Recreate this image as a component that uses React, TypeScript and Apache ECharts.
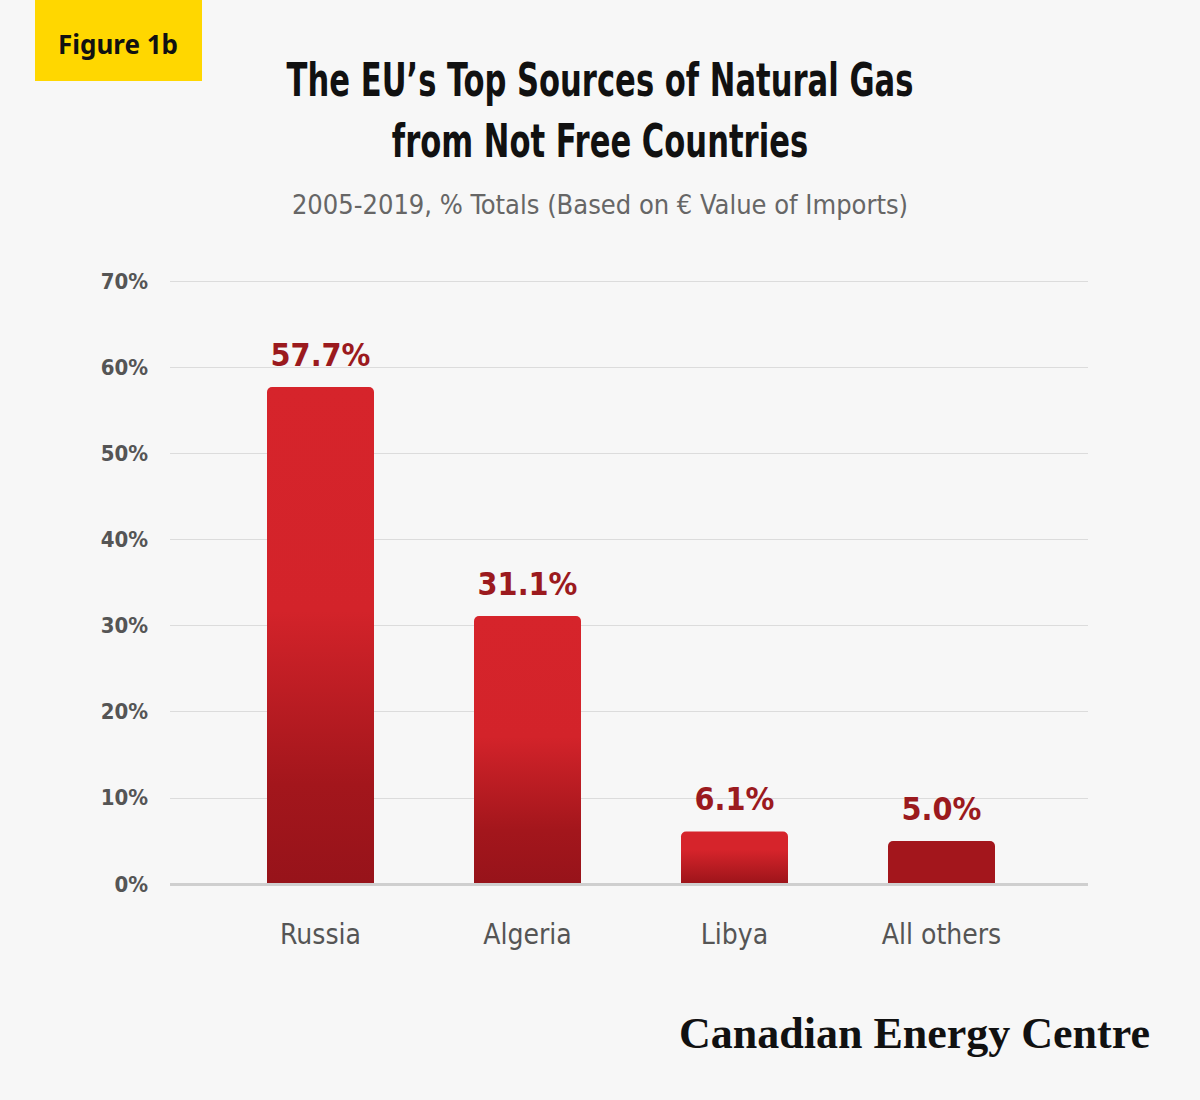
import * as echarts from "echarts";
import { useEffect, useRef } from "react";

const categories = ["Russia", "Algeria", "Libya", "All others"];
const shares = [57.7, 31.1, 6.1, 5.0];
const yTicks = [0, 10, 20, 30, 40, 50, 60, 70];

const COND = "'DejaVu Sans Condensed', 'Liberation Sans Narrow', 'Roboto', sans-serif";
const LABEL_RED = "#9b1a1e";

function barColor(i: number) {
  if (i === 3) return "#a3161c";
  const stops =
    i === 2
      ? [
          { offset: 0, color: "#d6242b" },
          { offset: 0.35, color: "#d6242b" },
          { offset: 1, color: "#9c141a" },
        ]
      : [
          { offset: 0, color: "#d6242b" },
          { offset: 0.45, color: "#d3232a" },
          { offset: 0.8, color: "#a3161c" },
          { offset: 1, color: "#97131a" },
        ];
  return new echarts.graphic.LinearGradient(0, 0, 0, 1, stops);
}

export default function App() {
  const ref = useRef<HTMLDivElement>(null);

  useEffect(() => {
    document.body.style.margin = "0";
    const el = ref.current;
    if (!el) return;
    const chart = echarts.init(el, null, { renderer: "svg" });
    const yBase = {
      type: "value" as const,
      min: 0,
      max: 70,
      interval: 10,
    };
    const titleText = (text: string, y: number) => ({
      type: "text",
      x: 600,
      y,
      scaleX: 0.74,
      originX: 0,
      style: { text, font: `bold 46px ${COND}`, fill: "#111", align: "center", verticalAlign: "middle" },
    });
    chart.setOption({
      animation: false,
      backgroundColor: "#f7f7f7",
      graphic: [
        { type: "rect", shape: { x: 35, y: 0, width: 167, height: 81 }, style: { fill: "#ffd700" } },
        {
          type: "text", x: 118, y: 44,
          style: { text: "Figure 1b", font: "bold 26px 'Noto Sans', sans-serif", fill: "#111", align: "center", verticalAlign: "middle" },
        },
        titleText("The EU’s Top Sources of Natural Gas", 80),
        titleText("from Not Free Countries", 141),
        {
          type: "text", x: 600, y: 204,
          style: { text: "2005-2019, % Totals (Based on € Value of Imports)", font: `27px ${COND}`, fill: "#666", align: "center", verticalAlign: "middle" },
        },
        {
          type: "text", x: 1150, y: 1033,
          style: { text: "Canadian Energy Centre", font: "bold 44px 'Liberation Serif', 'DejaVu Serif', serif", fill: "#111", align: "right", verticalAlign: "middle" },
        },
      ],
      grid: [
        { left: 170, right: 112, top: 281, bottom: 216 },
        { left: 217, right: 155, top: 281, bottom: 216 },
      ],
      xAxis: [
        { gridIndex: 0, type: "category", data: [""], show: false },
        {
          gridIndex: 1,
          type: "category",
          data: categories,
          axisLine: { show: false },
          axisTick: { show: false },
          axisLabel: { color: "#555", fontSize: 28, fontFamily: COND, margin: 36 },
        },
      ],
      yAxis: [
        {
          ...yBase,
          gridIndex: 0,
          axisLine: { show: false },
          axisTick: { show: false },
          axisLabel: {
            color: "#555",
            fontSize: 22,
            fontFamily: COND,
            fontWeight: "bold",
            margin: 22,
            formatter: (v: number) => (yTicks.includes(v) ? `${v}%` : ""),
          },
          splitLine: { lineStyle: { color: "#dcdcdc", width: 1 } },
        },
        { ...yBase, gridIndex: 1, show: false, splitLine: { show: false } },
      ],
      series: [
        {
          type: "line",
          xAxisIndex: 0,
          yAxisIndex: 0,
          data: [0],
          symbol: "none",
          lineStyle: { width: 0 },
          markLine: {
            silent: true,
            symbol: "none",
            label: { show: false },
            lineStyle: { color: "#cfcfcf", width: 3, type: "solid" },
            data: [{ yAxis: 0 }],
          },
        },
        {
          type: "bar",
          xAxisIndex: 1,
          yAxisIndex: 1,
          barWidth: 107,
          data: shares.map((v, i) => ({
            value: v,
            itemStyle: { color: barColor(i), borderRadius: [5, 5, 0, 0] },
          })),
          label: {
            show: true,
            position: "top",
            distance: 16,
            formatter: (p: any) => `${p.value.toFixed(1)}%`,
            color: LABEL_RED,
            fontSize: 32,
            fontWeight: "bold",
            fontFamily: COND,
          },
        },
      ],
    });
    return () => chart.dispose();
  }, []);

  return <div ref={ref} style={{ width: 1200, height: 1100 }} />;
}
